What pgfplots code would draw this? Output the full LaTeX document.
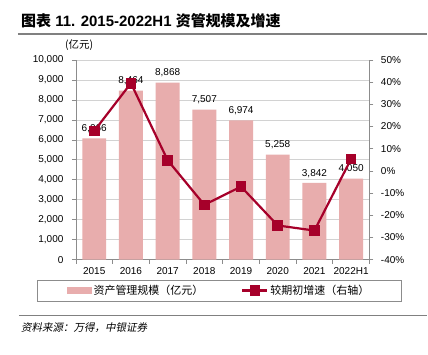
\documentclass[border=0pt]{standalone}
\usepackage{fontspec}
\setmainfont{Liberation Sans}
\newfontfamily\cjk{Noto Sans CJK SC}
\newfontfamily\cjkit[FakeSlant=0.2]{Noto Sans CJK SC}
\usepackage{pgfplots}
\pgfplotsset{compat=1.18}
\definecolor{barc}{HTML}{E8ADAD}
\definecolor{linec}{HTML}{A6002A}
\definecolor{axc}{HTML}{8C8C8C}
\begin{document}
\begin{tikzpicture}[x=1pt,y=1pt]
\path[fill=white] (0,0) rectangle (428,-355);
\node[anchor=base west, inner sep=0, font=\fontsize{15}{15}\selectfont\bfseries] at (21,-27) {{\cjk 图表} 11. 2015-2022H1 {\cjk 资管规模及增速}};
\draw[gray, line width=1.2pt] (18,-34) -- (428,-34);
\draw[gray, line width=1.2pt] (19,-316) -- (428,-316);
\node[anchor=west, inner sep=0, font=\fontsize{10.5}{10.5}\cjkit] at (21,-328) {资料来源：万得，中银证券};
\node[anchor=west, inner sep=0, font=\fontsize{10.5}{10.5}\cjk] at (65,-45) {(亿元)};
\begin{axis}[
  at={(76pt,-260pt)}, anchor=south west,
  scale only axis, width=294pt, height=200pt,
  xmin=-0.5, xmax=7.5, ymin=0, ymax=10000,
  axis x line*=bottom, axis y line*=left,
  axis line style={axc},
  xtick={0,...,7},
  xticklabels={2015,2016,2017,2018,2019,2020,2021,2022H1},
  minor xtick={-0.5,0.5,...,7.5},
  every major x tick/.append style={draw=none},
  ytick={0,1000,...,10000},
  tick align=outside, major tick length=4pt, minor tick length=4pt,
  tick style={axc, line width=0.6pt},
  ymajorgrids, grid style={gray!35, line width=0.6pt},
  scaled y ticks=false,
  /pgf/number format/1000 sep={,},
  /pgf/number format/assume math mode=true,
  tick label style={font=\fontsize{10}{10}\selectfont},
  yticklabel style={xshift=-5pt},
  ybar, bar width=24pt,
  nodes near coords,
  every node near coord/.append style={font=\fontsize{10}{10}\selectfont, /pgf/number format/1000 sep={,}, /pgf/number format/assume math mode=true, yshift=2pt},
]
\addplot[fill=barc, draw=none, bar shift=0pt] coordinates {(0,6066) (1,8464) (2,8868) (3,7507) (4,6974) (5,5258) (6,3842) (7,4050)};
\end{axis}
\begin{axis}[
  at={(76pt,-260pt)}, anchor=south west,
  scale only axis, width=294pt, height=200pt,
  xmin=-0.5, xmax=7.5, ymin=-40, ymax=50,
  axis x line=none, axis y line*=right,
  axis line style={axc},
  ytick={-40,-30,...,50},
  yticklabel={\pgfmathprintnumber{\tick}\%},
  tick align=outside, major tick length=4pt,
  tick style={axc, line width=0.6pt},
  /pgf/number format/assume math mode=true,
  tick label style={font=\fontsize{10}{10}\selectfont},
  yticklabel style={xshift=4pt},
  legend columns=2,
  legend style={at={(0.488,-0.155)}, anchor=center, draw=axc, line width=0.6pt,
    font=\fontsize{11}{11}\cjk, inner xsep=30pt, inner ysep=3pt,
    /tikz/every even column/.append style={column sep=36pt}},
  legend cell align=left,
]
\addlegendimage{legend image code/.code={\fill[barc] (0pt,-3pt) rectangle (24pt,3pt);}}
\addlegendentry{资产管理规模（亿元）}
\addplot[linec, line width=2.2pt, mark=square*, mark size=4.2pt, mark options={solid, fill=linec},
  legend image code/.code={\draw[linec, line width=2.2pt] (0pt,0pt) -- (25pt,0pt); \fill[linec] (8.5pt,-4pt) rectangle (16.5pt,4pt);}]
  coordinates {(0,18) (1,39.5) (2,4.8) (3,-15.3) (4,-7.1) (5,-24.6) (6,-26.9) (7,5.4)};
\addlegendentry{较期初增速（右轴）}
\end{axis}
\end{tikzpicture}
\end{document}
